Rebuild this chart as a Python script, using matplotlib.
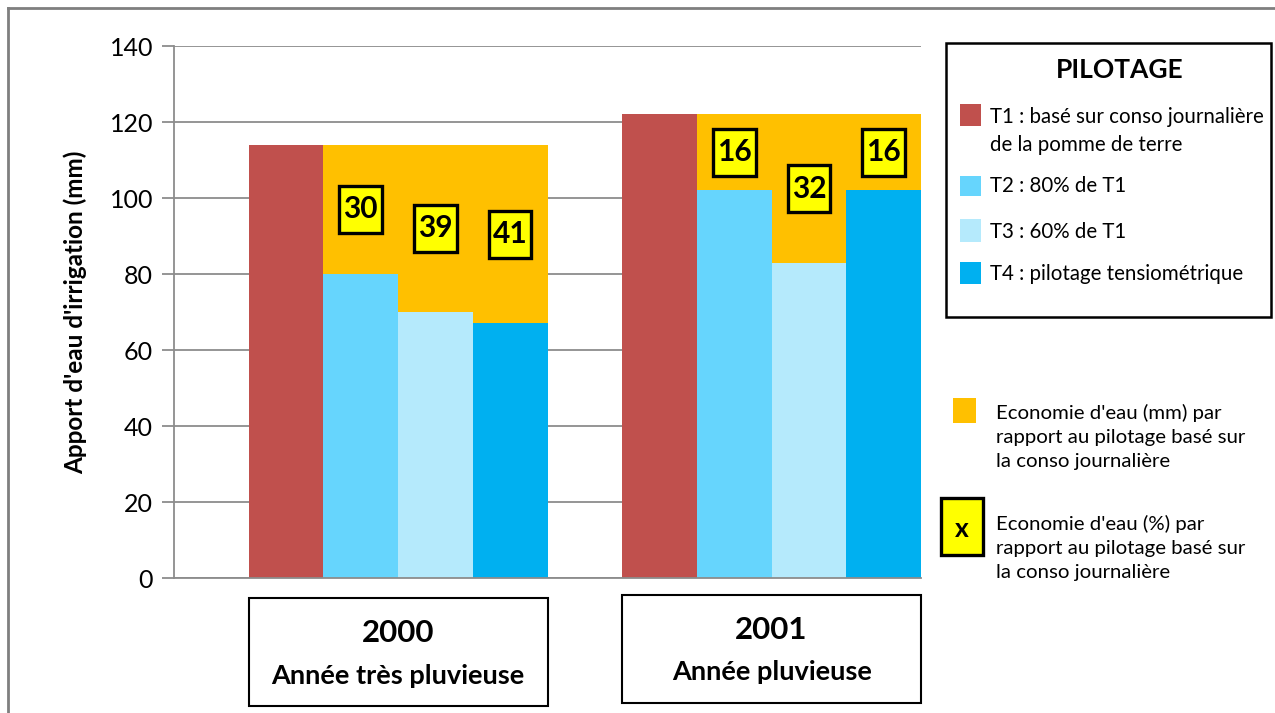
import matplotlib.pyplot as plt
from matplotlib.patches import Rectangle
from matplotlib.transforms import blended_transform_factory
import numpy as np

# Irrigation supply (mm) per treatment and year
years = ["2000", "2001"]
year_notes = ["Année très pluvieuse", "Année pluvieuse"]
t1 = [114, 122]
t2 = [80, 102]
t3 = [70, 83]
t4 = [67, 102]

labels = ["T1 : basé sur conso journalière\nde la pomme de terre",
          "T2 : 80% de T1", "T3 : 60% de T1", "T4 : pilotage tensiométrique"]
colors = ["#C0504D", "#66D5FD", "#B5EAFC", "#00B0F0"]
orange = "#FFC000"
yellow = "#FFFF00"
grid_c = "#8C8C8C"

plt.rcParams['font.family'] = ['Lato', 'DejaVu Sans']

W, H = 1275, 713
fig = plt.figure(figsize=(W / 100, H / 100), dpi=100)


def fx(px):
    return px / W


def fy(py):
    return 1 - py / H


ax = fig.add_axes([fx(174), fy(578), fx(921) - fx(174), fy(46) - fy(578)])

# group layout: one empty bar slot on the left and between the years
group_start = [1, 6]
for g in range(len(years)):
    x0 = group_start[g]
    vals = [t1[g], t2[g], t3[g], t4[g]]
    for i, v in enumerate(vals):
        ax.bar(x0 + i, v, width=1, align='edge', color=colors[i], zorder=2)
        if i > 0:
            saving = t1[g] - v
            ax.bar(x0 + i, saving, bottom=v, width=1, align='edge',
                   color=orange, zorder=2)
            pct = round(100 * saving / t1[g])
            cx, cy = x0 + i + 0.5, v + saving / 2
            bw, bh = 0.57, 12.4
            ax.add_patch(Rectangle((cx - bw / 2, cy - bh / 2), bw, bh,
                                   facecolor=yellow, edgecolor='black',
                                   lw=2.4, zorder=3))
            ax.text(cx, cy, str(pct), ha='center', va='center',
                    fontsize=21.5, fontweight='bold', zorder=4)

ax.set_xlim(0, 10)
ax.set_ylim(0, 140)
ax.set_yticks(np.arange(0, 141, 20))
ax.set_xticks([])
ax.yaxis.grid(True, color=grid_c, lw=1.3, zorder=0)
ax.set_axisbelow(True)
for s in ['top', 'right']:
    ax.spines[s].set_visible(False)
for s in ['left', 'bottom']:
    ax.spines[s].set_color(grid_c)
    ax.spines[s].set_linewidth(1.3)
ax.tick_params(axis='y', length=9, width=1.3, color=grid_c, labelsize=18,
               pad=6)
ax.set_ylabel("Apport d'eau d'irrigation (mm)", fontsize=17.5,
              fontweight='bold', labelpad=16)

# year boxes under each group
trans = blended_transform_factory(ax.transData, ax.transAxes)
box_y = [(-0.240, -0.038), (-0.235, -0.032)]
year_y = [-0.103, -0.098]
note_y = [-0.184, -0.177]
for g in range(len(years)):
    x0 = group_start[g]
    yb, yt = box_y[g]
    ax.add_patch(Rectangle((x0, yb), 4, yt - yb, transform=trans,
                           facecolor='white', edgecolor='black', lw=1.5,
                           clip_on=False))
    ax.text(x0 + 2, year_y[g], years[g], transform=trans, ha='center',
            va='center', fontsize=22.5, fontweight='bold')
    ax.text(x0 + 2, note_y[g], year_notes[g], transform=trans,
            ha='center', va='center', fontsize=19.5, fontweight='bold')

# treatment legend box
fig.add_artist(Rectangle((fx(946), fy(317)), fx(1271) - fx(946),
                         fy(43) - fy(317), transform=fig.transFigure,
                         facecolor='white', edgecolor='black', lw=1.8))
fig.text(fx(1120), fy(70), "PILOTAGE", ha='center', va='center',
         fontsize=19, fontweight='bold')
patch_rows = [(104, 126), (176, 196), (219, 242), (262, 284)]
text_rows = [131, 186, 232, 274]
for i in range(4):
    top, bot = patch_rows[i]
    fig.add_artist(Rectangle((fx(960), fy(bot)), fx(21), (bot - top) / H,
                             transform=fig.transFigure, facecolor=colors[i],
                             edgecolor='none'))
    fig.text(fx(990), fy(text_rows[i]), labels[i], ha='left', va='center',
             fontsize=14.8, linespacing=1.5)

# savings legend
fig.add_artist(Rectangle((fx(953), fy(423)), fx(23), 25 / H,
                         transform=fig.transFigure, facecolor=orange,
                         edgecolor='none'))
fig.text(fx(996), fy(437), "Economie d'eau (mm) par\nrapport au pilotage basé sur\nla conso journalière",
         ha='left', va='center', fontsize=14.7, linespacing=1.5)
fig.add_artist(Rectangle((fx(941), fy(555)), fx(42), 57 / H,
                         transform=fig.transFigure, facecolor=yellow,
                         edgecolor='black', lw=2.4))
fig.text(fx(962), fy(529), "x", ha='center', va='center', fontsize=19,
         fontweight='bold')
fig.text(fx(996), fy(548), "Economie d'eau (%) par\nrapport au pilotage basé sur\nla conso journalière",
         ha='left', va='center', fontsize=14.7, linespacing=1.5)

# outer frame edges
fig.add_artist(plt.Line2D([fx(8), 1], [fy(8), fy(8)], color='#7F7F7F',
                          lw=2, transform=fig.transFigure))
fig.add_artist(plt.Line2D([fx(8), fx(8)], [fy(8), 0], color='#7F7F7F',
                          lw=2, transform=fig.transFigure))

fig.savefig("out.png", dpi=100)
